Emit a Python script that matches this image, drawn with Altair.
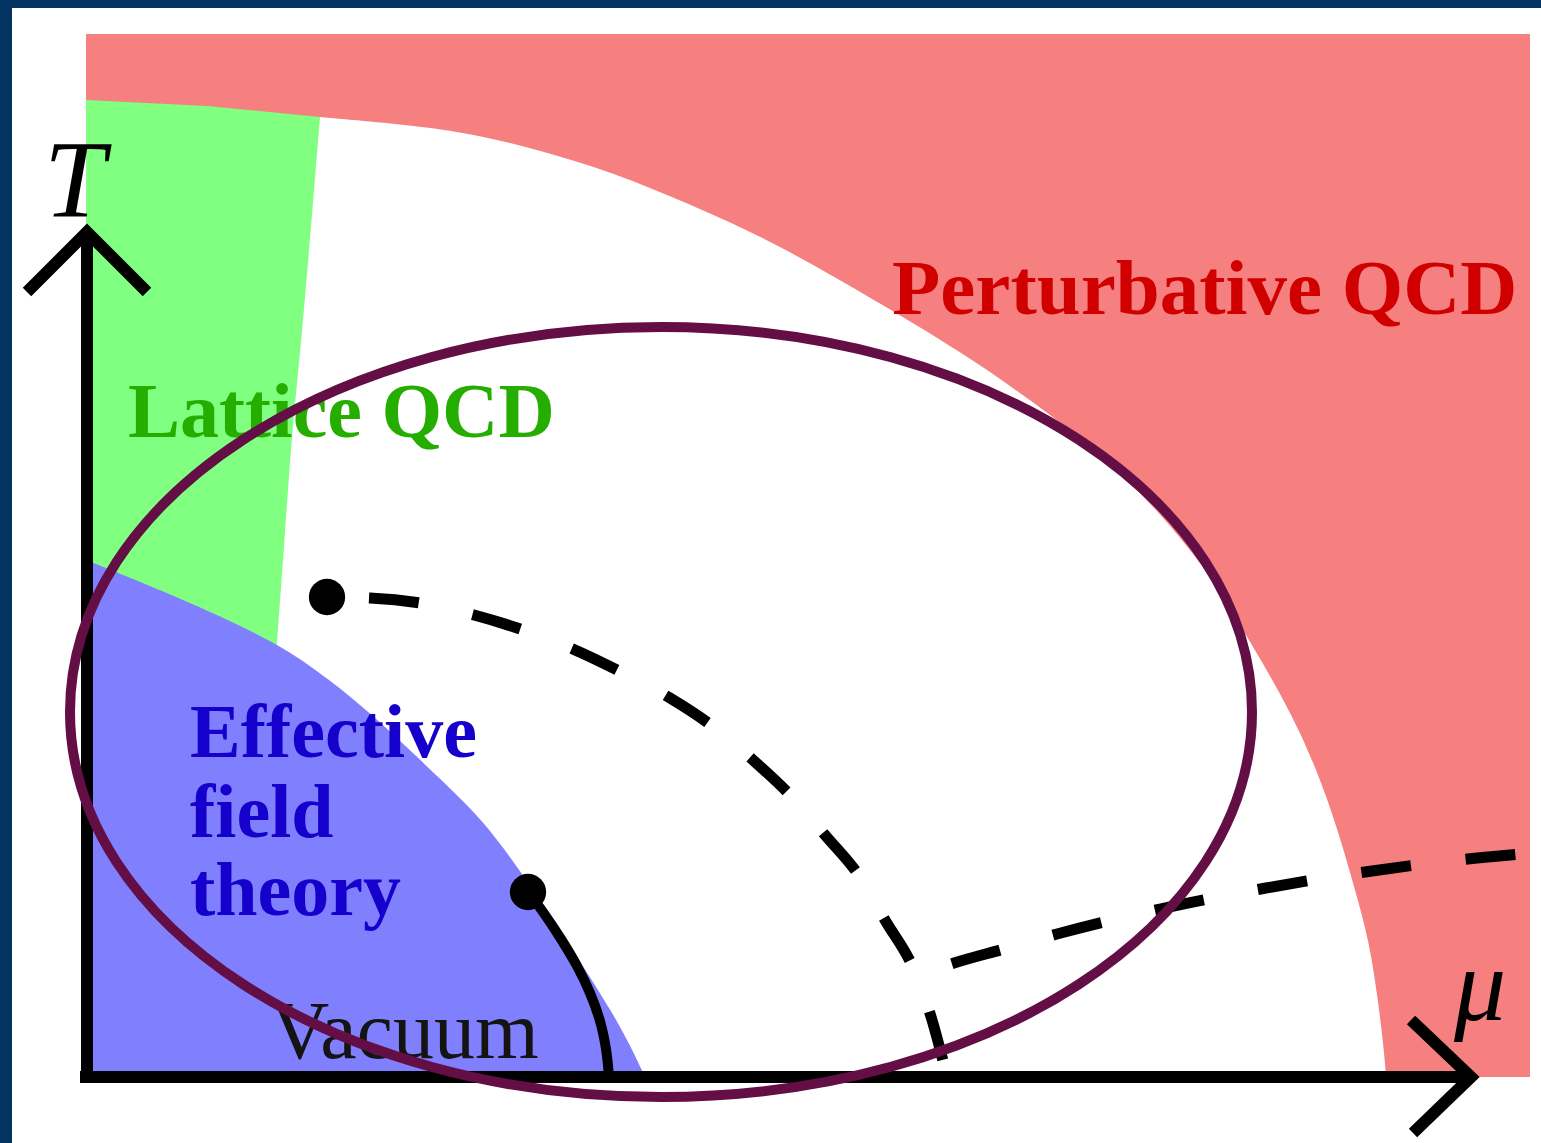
import altair as alt
import pandas as pd

# Coordinates are (mu, T) in arbitrary units, origin at the corner of the axes.

# Perturbative QCD block (full rectangle, later carved by the other regions)
red_mu = [-2, 1442]
red_T = [0, 1043]

# Lattice QCD strip: top edge
green_mu = [-2, 119, 232]
green_T = [977, 971, 960]

# Unexplored (white) region: right edge of the lattice strip ...
edge_mu = [189, 195, 203, 215, 232]
edge_T = [435, 517, 627, 757, 960]
# ... and the lower boundary of perturbative QCD
pert_mu = [232, 312, 377, 452, 524, 602, 681, 752, 815, 873, 962, 1045, 1112,
           1145, 1197, 1228, 1250, 1267, 1281, 1290, 1296, 1298]
pert_T = [960, 953, 945, 927, 905, 873, 837, 797, 760, 725, 664, 595, 517,
          464, 377, 310, 247, 187, 137, 77, 27, 0]

# Effective field theory region: upper boundary
eft_mu = [-2, 92, 189, 242, 287, 329, 364, 395, 429, 462, 495, 524, 542, 557]
eft_T = [517, 479, 435, 397, 360, 320, 287, 256, 211, 162, 111, 65, 32, 0]

# Crossover / transition line from the critical point down to the mu axis
cross_mu = [239, 282, 332, 386, 435, 487, 533, 582, 627, 665, 705, 737, 774,
            797, 826, 844, 859]
cross_T = [480, 479, 474, 462, 447, 427, 405, 379, 349, 317, 279, 242, 197,
           157, 107, 57, 0]

# Colour-superconducting branch
csc_mu = [824, 866, 916, 969, 1020, 1072, 1125, 1178, 1231, 1284, 1336, 1389, 1444]
csc_T = [100, 114, 128, 143, 156, 168, 179, 189, 198, 206, 213, 219, 224]

# Liquid-gas transition line
lg_mu = [440, 455, 473, 489, 502, 512, 518, 521]
lg_T = [185, 165, 138, 111, 84, 56, 28, 0]

# Critical end points
dot_mu = [239, 440]
dot_T = [480, 185]

# Axes with arrow heads: (segment id, mu, T)
ax_seg = ["Tax", "Tax", "Thead", "Thead", "Thead", "muax", "muax", "muhead", "muhead", "muhead"]
ax_mu = [-1, -1, -61, -1, 59, -8, 1383, 1323, 1383, 1325]
ax_T = [-6, 845, 785, 845, 785, 0, 0, 57, 0, -56]

# Labels
bold_text = ["Perturbative QCD", "Lattice QCD", "Effective", "field", "theory"]
bold_mu = [804, 40, 102, 102, 102]
bold_T = [763, 640, 320, 240, 162]
bold_size = [79, 78, 76, 76, 76]
bold_color = ["#d00000", "#25ad00", "#1500cc", "#1500cc", "#1500cc"]

axis_text = ["T", "μ"]
axis_text_mu = [-44, 1366]
axis_text_T = [860, 57]
axis_text_size = [110, 104]

# Highlighted domain (ellipse)
ell_mu = [573]
ell_T = [365]
ell_half_width = 591
ell_aspect = 0.6514

XS = alt.Scale(domain=[-76, 1453], nice=False, zero=False)
YS = alt.Scale(domain=[-66, 1069], nice=False, zero=False)


def X(field="mu"):
    return alt.X(field, type="quantitative", scale=XS, axis=None)


def Y(field="T"):
    return alt.Y(field, type="quantitative", scale=YS, axis=None)


def df(mu, T, **extra):
    d = {"mu": mu, "T": T, "ord": list(range(len(mu))), "base": [0] * len(mu)}
    d.update(extra)
    return pd.DataFrame(d)


def region(mu, T, colour, interp="linear"):
    return alt.Chart(df(mu, T)).mark_area(
        color=colour, opacity=1, interpolate=interp, strokeWidth=0
    ).encode(x=X(), y=Y(), y2="base:Q")


red = alt.Chart(
    pd.DataFrame({"x0": [red_mu[0]], "x1": [red_mu[1]], "y0": [red_T[0]], "y1": [red_T[1]]})
).mark_rect(color="#f68080", opacity=1).encode(x=X("x0"), x2="x1", y=Y("y1"), y2="y0")

green = region(green_mu, green_T, "#80ff80")
white_edge = region(edge_mu, edge_T, "white", "monotone")
white_pert = region(pert_mu, pert_T, "white", "basis")
blue = region(eft_mu, eft_T, "#8080ff", "basis")

labels_bold = alt.Chart(df(bold_mu, bold_T, label=bold_text, col=bold_color, fs=bold_size)).mark_text(
    align="left", baseline="alphabetic", font="Liberation Serif", fontWeight="bold"
).encode(
    x=X(), y=Y(), text="label:N",
    color=alt.Color("col:N", scale=None),
    size=alt.Size("fs:Q", scale=None),
)

vacuum = alt.Chart(df([182], [19], label=["Vacuum"])).mark_text(
    align="left", baseline="alphabetic", font="Liberation Serif", fontSize=82, color="#141414"
).encode(x=X(), y=Y(), text="label:N")

dash_style = dict(strokeDash=[50, 55], strokeDashOffset=63, strokeWidth=11, color="black",
                  interpolate="monotone", strokeCap="butt")
crossover = alt.Chart(df(cross_mu, cross_T)).mark_line(**dash_style).encode(x=X(), y=Y(), order="ord:Q")
csc = alt.Chart(df(csc_mu, csc_T)).mark_line(**dash_style).encode(x=X(), y=Y(), order="ord:Q")
liquid_gas = alt.Chart(df(lg_mu, lg_T)).mark_line(strokeWidth=10, color="black", interpolate="cardinal").encode(
    x=X(), y=Y(), order="ord:Q"
)
dots = alt.Chart(df(dot_mu, dot_T)).mark_point(shape="circle", filled=True, size=1320, color="black", opacity=1).encode(
    x=X(), y=Y()
)

axes = alt.Chart(df(ax_mu, ax_T, seg=ax_seg)).mark_line(
    strokeWidth=12, color="black", strokeJoin="miter", strokeCap="butt"
).encode(x=X(), y=Y(), detail="seg:N", order="ord:Q")

axis_labels = alt.Chart(df(axis_text_mu, axis_text_T, label=axis_text, fs=axis_text_size)).mark_text(
    align="left", baseline="alphabetic", font="Liberation Serif", fontStyle="italic", color="black"
).encode(x=X(), y=Y(), text="label:N", size=alt.Size("fs:Q", scale=None))

ellipse_path = f"M -1 0 A 1 {ell_aspect} 0 1 1 1 0 A 1 {ell_aspect} 0 1 1 -1 0 Z"
ellipse = alt.Chart(df(ell_mu, ell_T)).mark_point(
    shape=ellipse_path, size=(2 * ell_half_width) ** 2, filled=False, stroke="#640e46", strokeWidth=10, opacity=1
).encode(x=X(), y=Y())

chart = alt.layer(
    red, green, white_edge, white_pert, blue,
    labels_bold, vacuum,
    crossover, csc, liquid_gas, dots,
    axes, axis_labels, ellipse,
).properties(
    width=1529, height=1135,
    padding={"left": 12, "top": 8, "right": 0, "bottom": 0},
    autosize="none",
    background="#033461",
).configure_view(stroke=None, fill="white")

chart.save("out.html", embed_options={"renderer": "svg", "actions": False})
